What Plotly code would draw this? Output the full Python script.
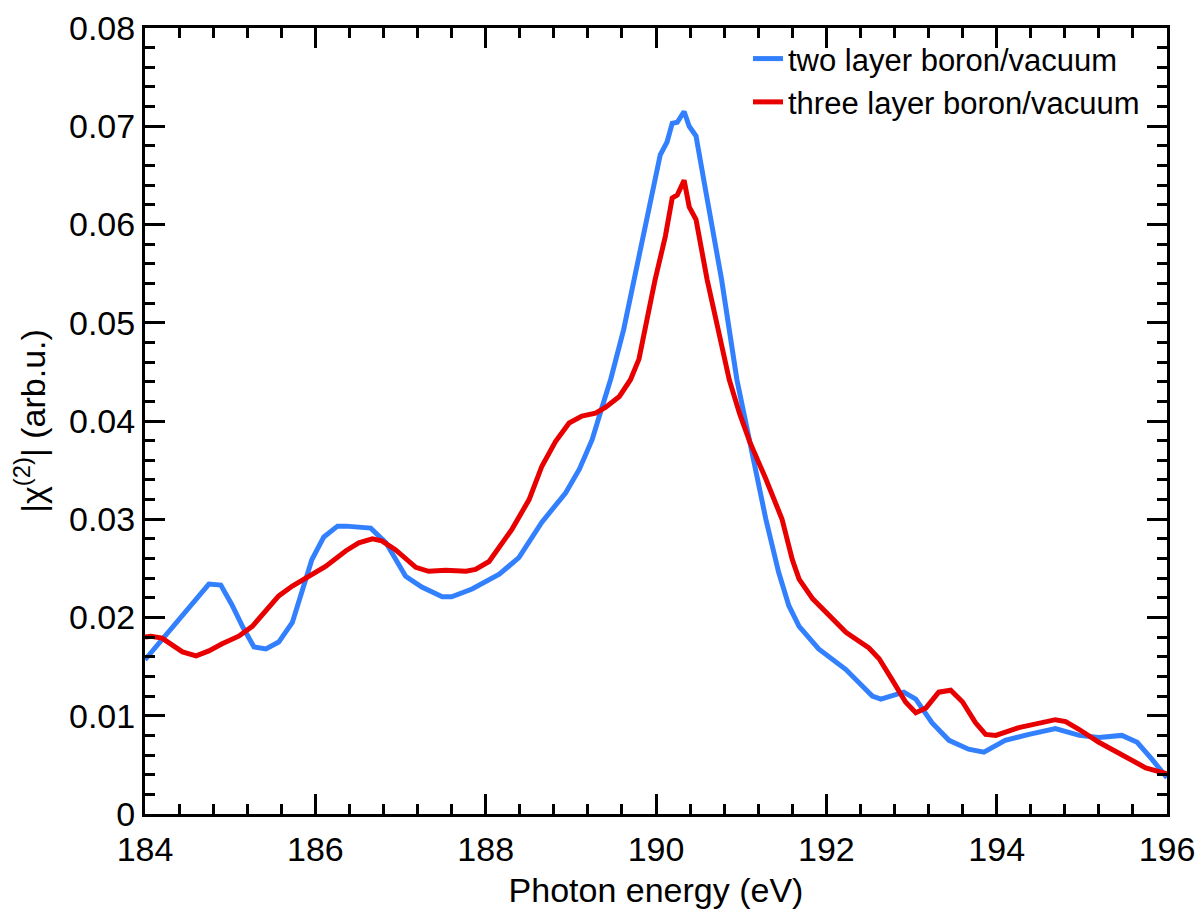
import plotly.graph_objects as go

# Two layer boron/vacuum
E_two = [184.0, 184.2, 184.4, 184.6, 184.75, 184.89, 185.02, 185.15, 185.28, 185.42,
         185.57, 185.73, 185.85, 185.96, 186.1, 186.26, 186.36, 186.5, 186.65, 186.83,
         186.95, 187.06, 187.25, 187.49, 187.6, 187.84, 188.16, 188.39, 188.66, 188.94,
         189.1, 189.25, 189.37, 189.47, 189.62, 189.74, 189.92, 190.05, 190.13, 190.19,
         190.25, 190.33, 190.39, 190.47, 190.58, 190.77, 190.95, 191.13, 191.29, 191.44,
         191.56, 191.68, 191.91, 192.23, 192.54, 192.64, 192.81, 192.91, 193.05, 193.24,
         193.44, 193.67, 193.85, 194.1, 194.38, 194.69, 194.97, 195.2, 195.47, 195.65,
         195.82, 196.0]
chi_two = [0.0157, 0.0178, 0.0198, 0.0219, 0.0234, 0.0233, 0.0213, 0.0190, 0.0170, 0.0168,
           0.0175, 0.0195, 0.0228, 0.0259, 0.0282, 0.0293, 0.0293, 0.0292, 0.0291, 0.0276,
           0.0258, 0.0242, 0.0231, 0.0221, 0.0221, 0.0229, 0.0244, 0.0261, 0.0297, 0.0327,
           0.0351, 0.0381, 0.0415, 0.0443, 0.0493, 0.0544, 0.0618, 0.0671, 0.0684, 0.0703,
           0.0704, 0.0715, 0.0700, 0.0690, 0.0636, 0.0544, 0.0442, 0.0368, 0.0300, 0.0246,
           0.0212, 0.0191, 0.0168, 0.0147, 0.0120, 0.0117, 0.0122, 0.0124, 0.0117, 0.0093,
           0.0075, 0.0066, 0.0063, 0.0075, 0.0081, 0.0087, 0.0080, 0.0078, 0.0080, 0.0073,
           0.0056, 0.0037]

# Three layer boron/vacuum
E_three = [184.0, 184.07, 184.2, 184.44, 184.6, 184.75, 184.9, 185.1, 185.26, 185.42,
           185.57, 185.73, 185.93, 186.12, 186.36, 186.51, 186.67, 186.78, 186.94, 187.18,
           187.33, 187.53, 187.77, 187.88, 188.04, 188.16, 188.31, 188.51, 188.66, 188.82,
           188.98, 189.13, 189.29, 189.41, 189.57, 189.7, 189.8, 189.94, 189.99, 190.11,
           190.19, 190.25, 190.33, 190.39, 190.47, 190.6, 190.73, 190.86, 190.98, 191.1,
           191.29, 191.48, 191.6, 191.68, 191.84, 192.03, 192.23, 192.5, 192.62, 192.77,
           192.93, 193.05, 193.17, 193.32, 193.46, 193.6, 193.75, 193.87, 193.99, 194.26,
           194.5, 194.69, 194.81, 194.97, 195.2, 195.51, 195.75, 196.0]
chi_three = [0.0180, 0.0181, 0.0179, 0.0165, 0.0161, 0.0166, 0.0173, 0.0181, 0.0191, 0.0208,
             0.0222, 0.0232, 0.0242, 0.0252, 0.0268, 0.0276, 0.0280, 0.0278, 0.0269, 0.0251,
             0.0247, 0.0248, 0.0247, 0.0249, 0.0257, 0.0271, 0.0290, 0.0320, 0.0354, 0.0379,
             0.0398, 0.0405, 0.0408, 0.0414, 0.0425, 0.0442, 0.0463, 0.0523, 0.0544, 0.0588,
             0.0627, 0.0630, 0.0645, 0.0618, 0.0605, 0.0544, 0.0490, 0.0442, 0.0408, 0.0379,
             0.0341, 0.0300, 0.0259, 0.0239, 0.0219, 0.0202, 0.0185, 0.0169, 0.0158, 0.0137,
             0.0114, 0.0103, 0.0108, 0.0124, 0.0126, 0.0114, 0.0093, 0.0081, 0.0080, 0.0088,
             0.0093, 0.0096, 0.0094, 0.0086, 0.0073, 0.0059, 0.0047, 0.0041]

x_ticks = [184, 186, 188, 190, 192, 194, 196]
y_ticks = [0, 0.01, 0.02, 0.03, 0.04, 0.05, 0.06, 0.07, 0.08]
y_ticklabels = ["0", "0.01", "0.02", "0.03", "0.04", "0.05", "0.06", "0.07", "0.08"]

FONT = "Liberation Sans, Arial, Helvetica, sans-serif"

fig = go.Figure()
fig.add_trace(go.Scatter(x=E_two, y=chi_two, mode="lines", name="two layer boron/vacuum",
                         line=dict(color="#3380FF", width=5)))
fig.add_trace(go.Scatter(x=E_three, y=chi_three, mode="lines", name="three layer boron/vacuum",
                         line=dict(color="#E80000", width=5)))

axis_common = dict(
    showline=True, linecolor="black", linewidth=3, mirror="allticks",
    ticks="inside", ticklen=20, tickwidth=2.5, tickcolor="black",
    showgrid=False, zeroline=False, automargin=False,
    tickfont=dict(family=FONT, size=34, color="black"),
)

fig.update_layout(
    width=1204, height=911,
    margin=dict(l=145, r=37, t=28, b=97),
    paper_bgcolor="white", plot_bgcolor="white",
    font=dict(family=FONT, color="black"),
    xaxis=dict(range=[184, 196], tickvals=x_ticks,
               minor=dict(dtick=0.4, tick0=184, ticks="inside", ticklen=10, tickwidth=2.5, tickcolor="black"),
               title=dict(text="Photon energy (eV)", font=dict(family=FONT, size=34), standoff=12),
               ticklabelstandoff=3,
               **axis_common),
    yaxis=dict(range=[0, 0.08], tickvals=y_ticks, ticktext=y_ticklabels,
               minor=dict(dtick=0.002, tick0=0, ticks="inside", ticklen=10, tickwidth=2.5, tickcolor="black"),
               title=dict(text="|χ<sup>(2)</sup>| (arb.u.)", font=dict(family=FONT, size=34), standoff=14),
               **axis_common),
    legend=dict(x=0.59, y=0.995, xanchor="left", yanchor="top",
                bgcolor="rgba(0,0,0,0)", borderwidth=0,
                font=dict(family=FONT, size=31, color="black"),
                tracegroupgap=0, itemwidth=30),
    showlegend=True,
)

fig.write_html("out.html")
